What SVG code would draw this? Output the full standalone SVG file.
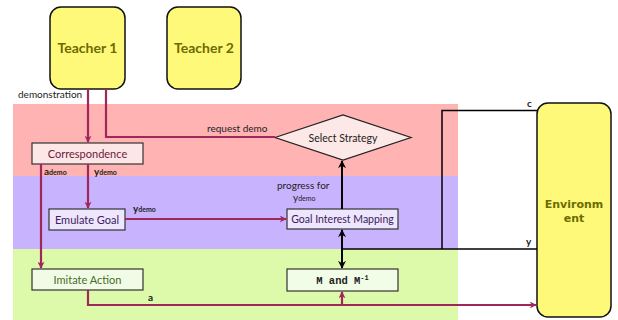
<svg xmlns="http://www.w3.org/2000/svg" width="618" height="320" viewBox="0 0 618 320">
<defs>
<marker id="am" viewBox="0 0 10 10" refX="9" refY="5" markerWidth="7" markerHeight="7" orient="auto" markerUnits="userSpaceOnUse"><path d="M0,0 L10,5 L0,10 L3,5 z" fill="#a0275a"/></marker>
<marker id="ak" viewBox="0 0 10 10" refX="9" refY="5" markerWidth="8" markerHeight="8" orient="auto-start-reverse" markerUnits="userSpaceOnUse"><path d="M0,0 L10,5 L0,10 L3,5 z" fill="#000"/></marker>
<style>
.t{font-family:Lato,"Open Sans",sans-serif;}
.big{font-size:14px;font-weight:bold;fill:#6b6b00;}
.box{stroke:#333;stroke-width:1.2;}
.lbl{font-size:10px;fill:#222;}
.sub{font-size:7px;}
.m{fill:none;stroke:#a0275a;stroke-width:2.2;}
.k{fill:none;stroke:#000;stroke-width:2;}
.kt{fill:none;stroke:#000;stroke-width:1.5;}
</style>
</defs>
<rect x="13" y="104" width="445" height="72" fill="#ffb3b3"/>
<rect x="13" y="176" width="445" height="73" fill="#c8b3ff"/>
<rect x="13" y="249" width="445" height="71" fill="#ddfaaa"/>

<g id="teacher1"><rect x="50" y="7" width="75" height="82" rx="11" fill="#fff97a" stroke="#111" stroke-width="1.5"/><text class="t big" x="87.5" y="53" text-anchor="middle">Teacher 1</text></g>
<g id="teacher2"><rect x="167" y="7" width="74" height="82" rx="11" fill="#fff97a" stroke="#111" stroke-width="1.5"/><text class="t big" x="204" y="53" text-anchor="middle">Teacher 2</text></g>
<g id="environment"><rect x="537" y="103" width="74" height="214" rx="11" fill="#fff97a" stroke="#111" stroke-width="1.5"/><text font-family="'DejaVu Sans',sans-serif" font-size="11px" font-weight="bold" fill="#6b6b00" x="574" y="208" text-anchor="middle">Environm</text><text font-family="'DejaVu Sans',sans-serif" font-size="11px" font-weight="bold" fill="#6b6b00" x="574" y="222" text-anchor="middle">ent</text></g>

<g id="correspondence"><rect class="box" x="32" y="143" width="111" height="21" fill="#fde6e6"/><text class="t" font-size="11px" fill="#6a2040" x="87.5" y="157.5" text-anchor="middle">Correspondence</text></g>
<g id="select"><polygon points="275,137.5 343,115 411,137.5 343,160" fill="#fde8e8" stroke="#222" stroke-width="1.2"/><text class="t" font-size="10.5px" fill="#222" x="343" y="141.5" text-anchor="middle">Select Strategy</text></g>
<g id="emulate"><rect class="box" x="49" y="209" width="76" height="21" fill="#eee6fc"/><text class="t" font-size="11px" fill="#3a2060" x="87" y="223.5" text-anchor="middle">Emulate Goal</text></g>
<g id="gim"><rect class="box" x="287" y="209" width="111" height="20" fill="#eee6fc"/><text class="t" font-size="10.5px" fill="#3a2060" x="342.5" y="222.5" text-anchor="middle">Goal Interest Mapping</text></g>
<g id="imitate"><rect class="box" x="32" y="269" width="111" height="21" fill="#f1fce6"/><text class="t" font-size="11px" fill="#4a6a2a" x="87.5" y="283.5" text-anchor="middle">Imitate Action</text></g>
<g id="mmap"><rect class="box" x="287" y="269" width="111" height="22" fill="#f2fde8"/><text font-family="'Liberation Mono',monospace" font-size="10.5px" font-weight="bold" fill="#222" x="342.5" y="284" text-anchor="middle">M and M<tspan font-size="7px" dy="-4">-1</tspan></text></g>

<g id="connectors">
<path class="m" d="M88,89 V142" marker-end="url(#am)"/>
<path class="m" d="M106,89 V137 H275"/>
<path class="m" d="M41,164 V268" marker-end="url(#am)"/>
<path class="m" d="M88,164 V208" marker-end="url(#am)"/>
<path class="m" d="M125,219 H286" marker-end="url(#am)"/>
<path class="m" d="M88,290 V305 H536" marker-end="url(#am)"/>
<path class="m" d="M342,305 V292" marker-end="url(#am)"/>
<path class="k" d="M342,209 V161" marker-end="url(#ak)"/>
<path class="k" d="M342,230 V268" marker-start="url(#ak)" marker-end="url(#ak)"/>
<path class="kt" d="M342,249 H537"/>
<path class="kt" d="M537,110.5 H442 V249"/>
</g>

<g id="labels">
<text class="t lbl" x="18" y="98">demonstration</text>
<text class="t lbl" x="207" y="132">request demo</text>
<text class="t lbl" x="44" y="175" font-weight="bold" fill="#5a1030">a<tspan class="sub">demo</tspan></text>
<text class="t lbl" x="94" y="175" font-weight="bold" fill="#5a1030">y<tspan class="sub">demo</tspan></text>
<text class="t lbl" x="133" y="212" font-weight="bold" fill="#5a1030">y<tspan class="sub">demo</tspan></text>
<text class="t lbl" x="277" y="189">progress for</text>
<text class="t lbl" x="293" y="201">y<tspan class="sub">demo</tspan></text>
<text class="t lbl" x="148" y="301" font-weight="bold">a</text>
<text class="t lbl" x="527" y="107" font-weight="bold">c</text>
<text class="t lbl" x="526" y="245" font-weight="bold">y</text>
</g>
</svg>
